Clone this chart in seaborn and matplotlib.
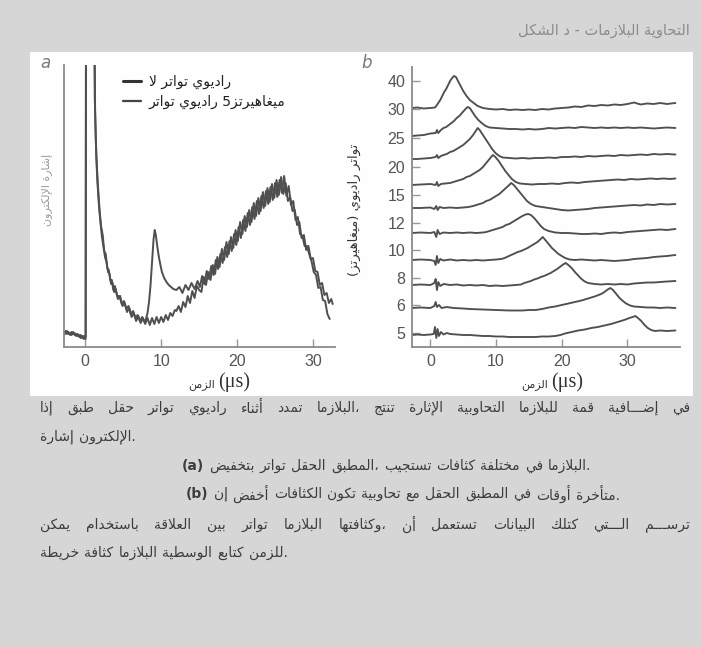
import re
import numpy as np
import pandas as pd
import matplotlib
matplotlib.use("Agg")
import matplotlib.pyplot as plt
import seaborn as sns
from matplotlib.lines import Line2D
from matplotlib.patches import Rectangle

# ------------------------------------------------------------------ data
time_ticks = [0, 10, 20, 30]

# panel a : electron signal (arbitrary units), (time us, signal)
a_no_rf = [(-2.8, 14), (-2.6, 16), (-2.4, 13), (-2.2, 15), (-2.0, 12), (-1.8, 15), (-1.6, 13),
           (-1.4, 14), (-1.2, 11), (-1.0, 13), (-0.8, 10), (-0.6, 12), (-0.4, 9), (-0.2, 11),
           (0.05, 8), (0.1, 400), (1.15, 400), (1.3, 235), (1.45, 190), (1.6, 165), (1.8, 142),
           (2.0, 125), (2.2, 110), (2.4, 100), (2.6, 90), (2.8, 85), (3.0, 75), (3.2, 73), (3.4, 63),
           (3.6, 64), (3.8, 55), (4.0, 58), (4.3, 48), (4.6, 51), (4.9, 41), (5.2, 44), (5.5, 35),
           (5.8, 39), (6.1, 30), (6.4, 34), (6.7, 26), (7.0, 31), (7.3, 24), (7.6, 29), (7.9, 23),
           (8.2, 29), (8.5, 22), (8.8, 29), (9.1, 23), (9.4, 30), (9.7, 24), (10.0, 30), (10.3, 25),
           (10.6, 32), (10.9, 27), (11.2, 34), (11.5, 31), (11.8, 37), (12.0, 36), (12.3, 41),
           (12.6, 35), (12.9, 45), (13.2, 40), (13.5, 51), (13.8, 44), (14.1, 56), (14.4, 49),
           (14.7, 61), (15.0, 57), (15.3, 55), (15.6, 70), (15.9, 62), (16.2, 75), (16.5, 67),
           (16.8, 82), (17.1, 73), (17.4, 90), (17.7, 80), (18.0, 98), (18.3, 87), (18.6, 105),
           (18.9, 93), (19.2, 110), (19.5, 99), (19.8, 117), (20.1, 106), (20.4, 125), (20.7, 113),
           (21.0, 131), (21.3, 120), (21.6, 137), (21.9, 125), (22.2, 144), (22.5, 131), (22.8, 149),
           (23.1, 136), (23.4, 155), (23.7, 141), (24.0, 159), (24.3, 145), (24.6, 163), (24.9, 149),
           (25.2, 167), (25.5, 152), (25.8, 170), (26.1, 153), (26.4, 164), (26.7, 146), (27.0, 150),
           (27.3, 136), (27.6, 137), (27.9, 122), (28.2, 125), (28.5, 109), (28.8, 112), (29.1, 97),
           (29.4, 101), (29.7, 88), (30.0, 89), (30.3, 76), (30.6, 75), (30.9, 62), (31.2, 64),
           (31.5, 52), (31.8, 54), (32.1, 44), (32.4, 48), (32.6, 43)]

a_rf5 = [(-2.8, 12), (-2.6, 14), (-2.4, 16), (-2.2, 13), (-2.0, 14), (-1.8, 12), (-1.6, 15),
         (-1.4, 12), (-1.2, 13), (-1.0, 11), (-0.8, 12), (-0.6, 9), (-0.4, 11), (-0.2, 8),
         (0.05, 10), (0.12, 400), (1.12, 400), (1.25, 250), (1.4, 205), (1.55, 178), (1.7, 158),
         (1.9, 135), (2.1, 120), (2.3, 112), (2.5, 96), (2.7, 93), (2.9, 79), (3.1, 77), (3.3, 67),
         (3.5, 67), (3.7, 57), (3.9, 61), (4.2, 51), (4.5, 51), (4.8, 43), (5.1, 46), (5.4, 38),
         (5.7, 41), (6.0, 33), (6.3, 36), (6.6, 29), (6.9, 32), (7.2, 26), (7.5, 30), (7.8, 25),
         (8.0, 28), (8.2, 34), (8.4, 45), (8.6, 62), (8.8, 85), (9.0, 108), (9.15, 117), (9.3, 112),
         (9.5, 100), (9.7, 90), (9.9, 82), (10.1, 75), (10.4, 69), (10.7, 65), (11.0, 62),
         (11.3, 60), (11.6, 58), (12.0, 57), (12.4, 60), (12.8, 54), (13.2, 62), (13.6, 57),
         (14.0, 64), (14.4, 58), (14.8, 66), (15.1, 60), (15.4, 71), (15.7, 63), (16.0, 76),
         (16.3, 68), (16.6, 81), (16.9, 72), (17.2, 87), (17.5, 78), (17.8, 93), (18.1, 84),
         (18.4, 100), (18.7, 90), (19.0, 106), (19.3, 96), (19.6, 113), (19.9, 102), (20.2, 120),
         (20.5, 109), (20.8, 127), (21.1, 116), (21.4, 134), (21.7, 122), (22.0, 140), (22.3, 128),
         (22.6, 146), (22.9, 133), (23.2, 151), (23.5, 139), (23.8, 156), (24.1, 143), (24.4, 160),
         (24.7, 147), (25.0, 164), (25.3, 150), (25.6, 167), (25.9, 154), (26.2, 171), (26.5, 151),
         (26.8, 161), (27.1, 142), (27.4, 146), (27.7, 127), (28.0, 130), (28.3, 113), (28.6, 111),
         (28.9, 101), (29.2, 101), (29.5, 93), (29.8, 86), (30.1, 75), (30.4, 72), (30.7, 59),
         (31.0, 60), (31.3, 47), (31.6, 46), (31.9, 33), (32.2, 28)]

legend_labels = ["لا تواتر راديوي", "تواتر راديوي 5ميغاهيرتز"]

# panel b : RF frequency (MHz) traces, (time us, amplitude above own baseline)
b_tick_labels = ["40", "30", "25", "20", "15", "12", "10", "8", "6", "5"]
b_tick_pos = [266, 238, 209, 180, 152, 124, 97, 69, 42, 14]
b_offsets = [239, 211, 188, 162, 139, 114, 87, 62, 39, 12]

b_trace1 = [(-2.8, 0), (-2, 0.5), (-1, -0.5), (0, 0), (0.7, 0.5), (1.0, 3), (1.2, 5), (1.5, 8), (1.8, 12),
            (2.1, 16), (2.4, 19), (2.7, 23), (3.0, 27), (3.3, 30), (3.6, 32), (3.9, 31), (4.2, 27),
            (4.6, 22), (5.0, 17), (5.5, 12), (6.0, 8), (6.6, 5), (7.2, 2), (8.0, 0), (9, -1), (10, -1.5),
            (11, -1), (12, -2), (13, -1.5), (14, -2), (15, -1.5), (16, -2), (17, -1), (18, -1.5),
            (19, -0.5), (20, 0), (21, 0.5), (22, 1.5), (23, 1), (24, 2.5), (25, 2), (26, 3), (27, 2.5),
            (28, 3.5), (29, 3), (30, 4), (31, 5.5), (32, 3.5), (33, 4.5), (34, 4), (35, 5), (36, 4),
            (37.3, 5)]
b_trace2 = [(-2.8, 0), (-2, 0.5), (-1, 1), (0, 2.5), (0.8, 3), (1.0, 6), (1.2, 3), (1.6, 6), (2.0, 8),
            (2.4, 9), (2.8, 11), (3.2, 13), (3.6, 15), (4.0, 18), (4.4, 20), (4.8, 23), (5.2, 26),
            (5.5, 28), (5.7, 29), (6.0, 28), (6.4, 24), (6.8, 20), (7.3, 16), (7.8, 13), (8.4, 10),
            (9, 8.5), (10, 8), (11, 7.5), (12, 7), (13, 7), (14, 6.5), (15, 7), (16, 6.5), (17, 7),
            (18, 8), (19, 7.5), (20, 8), (21, 8.5), (22, 8), (23, 9), (24, 8.5), (25, 8), (26, 8.5),
            (27, 8), (28, 8.5), (29, 8), (30, 8.5), (31, 8), (32, 8.5), (33, 8), (34, 7.5), (35, 8),
            (36, 8.5), (37.3, 8)]
b_trace3 = [(-2.8, 0), (-2, 0), (-1, 0.5), (0, 1), (0.8, 2), (1.0, 4), (1.2, 1), (1.6, 3), (2.0, 4),
            (2.5, 5), (3.0, 7), (3.5, 8), (4.0, 10), (4.5, 12), (5.0, 14), (5.5, 17), (6.0, 20),
            (6.5, 24), (6.9, 28), (7.2, 31), (7.5, 29), (7.9, 25), (8.4, 20), (8.9, 15), (9.4, 10),
            (9.9, 6), (10.5, 3), (11, 1.5), (12, 1), (13, 0.5), (14, 1), (15, 0.5), (16, 1), (17, 1),
            (18, 1.5), (19, 1), (20, 2), (21, 2), (22, 2.5), (23, 2), (24, 3), (25, 2.5), (26, 3),
            (27, 3.5), (28, 3), (29, 4), (30, 3.5), (31, 4), (32, 4.5), (33, 4), (34, 5), (35, 4.5),
            (36, 5), (37.3, 4.5)]
b_trace4 = [(-2.8, 0), (-1.5, 0.5), (0, 1), (0.8, 0), (1.0, 3), (1.2, -1), (1.6, 1), (2.2, 1.5), (3.0, 2),
            (3.5, 3), (4.0, 4), (4.5, 5), (5.0, 6), (5.5, 8), (6.0, 9), (6.5, 11), (7.0, 13), (7.5, 15),
            (8.0, 18), (8.5, 22), (9.0, 26), (9.5, 30), (9.9, 28), (10.4, 24), (10.9, 19), (11.4, 14),
            (11.9, 10), (12.4, 6), (13, 3), (13.6, 1.5), (14.5, 1), (15.5, 0.5), (16.5, 1), (17.5, 1),
            (18.5, 1.5), (19.5, 1), (20.5, 2), (21.5, 2.5), (22.5, 2), (23.5, 3), (24.5, 3.5),
            (25.5, 4), (26.5, 4.5), (27.5, 5), (28.5, 5.5), (29.5, 5), (30.5, 6), (31.5, 5.5),
            (32.5, 6), (33.5, 6.5), (34.5, 6), (35.5, 6.5), (36.5, 6), (37.3, 6.5)]
b_trace5 = [(-2.8, 0), (-1.5, 0), (0, 0.5), (0.6, -1), (0.9, 2), (1.1, -2), (1.4, 1), (2.0, 0), (3, 0.5),
            (4, 0), (5, 0.5), (5.8, 1), (6.5, 2), (7, 3), (7.5, 4), (8, 5), (8.5, 7), (9, 8), (9.5, 10),
            (10, 12), (10.5, 14), (11, 17), (11.5, 20), (12, 23), (12.3, 25), (12.7, 23), (13.2, 19),
            (13.7, 15), (14.2, 11), (14.7, 7), (15.3, 4), (16, 2), (17, 1), (18, 0), (19, -1), (20, -2),
            (21, -2.5), (22, -2), (23, -1.5), (24, -1), (25, 0), (26, 0.5), (27, 1), (28, 1.5), (29, 2),
            (30, 2.5), (31, 3), (32, 2.5), (33, 3.5), (34, 3), (35, 4), (36, 3.5), (37.3, 4)]
b_trace6 = [(-2.8, 0), (-1.5, 0.5), (0, 0), (0.6, 1), (0.9, -4), (1.1, 3), (1.4, -1), (2, 0.5), (3, 0),
            (4, 0.5), (5, 0), (6, 0.5), (7, 0), (8, 0.5), (8.5, 1), (9, 2), (9.5, 3), (10, 4), (10.5, 5),
            (11, 6), (11.5, 8), (12, 9), (12.5, 11), (13, 13), (13.5, 15), (14, 17), (14.5, 18.5),
            (14.9, 19), (15.3, 18), (15.8, 15), (16.3, 11), (16.8, 7), (17.3, 4), (18, 2), (19, 0.5),
            (20, 0), (21, 0), (22, -0.5), (23, -1), (24, -1), (25, -0.5), (26, -1), (27, 0), (28, 0.5),
            (29, 0), (30, 1), (31, 1.5), (32, 2), (33, 2.5), (34, 3), (35, 3.5), (36, 3), (37.3, 4)]
b_trace7 = [(-2.8, 0), (-1.5, 0.5), (0, 0), (0.6, -1), (0.8, -5), (1.0, 4), (1.2, -3), (1.5, 1), (2, -0.5),
            (3, 0.5), (4, -0.5), (5, 0), (6, -0.5), (7, 0), (8, -0.5), (9, 0), (10, 0.5), (10.8, 1),
            (11.3, 2), (11.8, 3.5), (12.3, 5), (12.8, 6.5), (13.3, 8), (13.8, 9), (14.3, 10.5),
            (14.8, 12), (15.3, 14), (15.8, 16), (16.3, 18), (16.8, 21), (17.1, 23), (17.5, 20),
            (18, 16), (18.5, 12), (19, 9), (19.5, 6), (20, 4), (20.5, 2), (21.2, 0.5), (22, 0),
            (23, 0.5), (24, 0), (25, -0.5), (26, 0), (27, -0.5), (28, -1), (29, -0.5), (30, 0), (31, 1),
            (32, 1.5), (33, 2), (34, 3), (35, 3.5), (36, 4), (37.3, 5)]
b_trace8 = [(-2.8, 0), (-1.5, 0.5), (0, 0), (0.6, 2), (0.8, 6), (1.0, -5), (1.2, 3), (1.5, -1), (2, 1),
            (3, 0), (4, 0.5), (5, -0.5), (6, 0), (7, -0.5), (8, 0), (9, -1), (10, -0.5), (11, -1),
            (12, -0.5), (13, 0), (13.8, 0.5), (14.3, 2), (14.8, 3), (15.3, 4), (15.8, 5.5), (16.3, 6.5),
            (16.8, 8), (17.3, 9), (17.8, 10.5), (18.3, 12), (18.8, 14), (19.3, 16), (19.8, 18.5),
            (20.2, 20.5), (20.6, 22), (21, 20), (21.5, 17), (22, 13), (22.5, 9.5), (23, 6), (23.5, 3.5),
            (24, 2), (25, 1), (26, 0.5), (27, 1), (28, 0.5), (29, 1), (30, 0.5), (31, 1.5), (32, 2),
            (33, 2.5), (34, 2.5), (35, 3), (36, 3.5), (37.3, 4)]
b_trace9 = [(-2.8, 0), (-1.5, 0.5), (0, 0), (0.6, 2), (0.8, 6), (1.0, 1), (1.3, 3), (1.7, 0), (2.5, 1),
            (3.5, 0), (5, -0.5), (6, -1), (8, -1.5), (10, -2), (12, -2.5), (14, -2.5), (15, -2),
            (16, -2), (17, -1), (18, 0.5), (19, 1.5), (20, 3), (21, 4.5), (22, 6), (23, 7.5), (24, 9.5),
            (25, 11.5), (26, 14), (26.5, 16), (27, 18.5), (27.4, 20), (27.8, 18), (28.3, 14), (28.8, 10),
            (29.3, 7), (29.8, 4.5), (30.4, 2.5), (31, 1.5), (32, 1), (33, 0.5), (34, 0.5), (35, 0),
            (36, 0.5), (37.3, 0)]
b_trace10 = [(-2.8, 0), (-2, 0.5), (-1, 0), (0, 0.5), (0.5, 1), (0.7, 8), (0.9, -3), (1.1, 6), (1.3, -1),
             (1.6, 3), (2, 0.5), (2.5, 2), (3, 1), (4, 0.5), (5, 0), (6, 0), (7, -0.5), (8, -1), (9, -1),
             (10, -1.5), (11, -1.5), (12, -2), (13, -2), (14, -2), (15, -2), (16, -2), (17, -1.5),
             (18, -1.5), (19, -1), (19.8, 0), (20.5, 1.5), (21.5, 3), (22.5, 4.5), (23.5, 5.5),
             (24.5, 7), (25.5, 8), (26.5, 9.5), (27.5, 11), (28.5, 13), (29.5, 15), (30.3, 17),
             (30.8, 18), (31.2, 19), (31.6, 17), (32.1, 14), (32.6, 10), (33.1, 7), (33.6, 5),
             (34.2, 4), (35, 4.5), (36, 4), (37.3, 4.5)]
b_traces = [b_trace1, b_trace2, b_trace3, b_trace4, b_trace5,
            b_trace6, b_trace7, b_trace8, b_trace9, b_trace10]

title_text = "الشكل د - البلازمات التحاوية"
a_ylabel = "إشارة الإلكترون"
b_ylabel = "تواتر راديوي (ميغاهيرتز)"
x_word = "الزمن"
x_unit = "(μs)"
paragraph = [
    "إذا طبّق حقل تواتر راديوي أثناء تمدّد البلازما، تُنتج الإثارة التحاوبية للبلازما قمّة إضـــافية في",
    "إشارة الإلكترون.",
    "(a) بتخفيض تواتر الحقل المطبّق، تستجيب كثافات مختلفة في البلازما.",
    "(b) إن أخفض الكثافات تكون تحاوبية مع الحقل المطبّق في أوقات متأخرة.",
    "يمكن باستخدام العلاقة بين تواتر البلازما وكثافتها، أن تستعمل البيانات كتلك الـــتي ترســـم",
    "خريطة كثافة البلازما الوسطية كتابع للزمن.",
]

# ------------------------------------------------------------------ arabic shaping
_spec = [('ء', 0xFE80, 1), ('آ', 0xFE81, 2), ('أ', 0xFE83, 2), ('ؤ', 0xFE85, 2), ('إ', 0xFE87, 2),
         ('ئ', 0xFE89, 4), ('ا', 0xFE8D, 2), ('ب', 0xFE8F, 4), ('ة', 0xFE93, 2), ('ت', 0xFE95, 4),
         ('ث', 0xFE99, 4), ('ج', 0xFE9D, 4), ('ح', 0xFEA1, 4), ('خ', 0xFEA5, 4), ('د', 0xFEA9, 2),
         ('ذ', 0xFEAB, 2), ('ر', 0xFEAD, 2), ('ز', 0xFEAF, 2), ('س', 0xFEB1, 4), ('ش', 0xFEB5, 4),
         ('ص', 0xFEB9, 4), ('ض', 0xFEBD, 4), ('ط', 0xFEC1, 4), ('ظ', 0xFEC5, 4), ('ع', 0xFEC9, 4),
         ('غ', 0xFECD, 4), ('ف', 0xFED1, 4), ('ق', 0xFED5, 4), ('ك', 0xFED9, 4), ('ل', 0xFEDD, 4),
         ('م', 0xFEE1, 4), ('ن', 0xFEE5, 4), ('ه', 0xFEE9, 4), ('و', 0xFEED, 2), ('ى', 0xFEEF, 2),
         ('ي', 0xFEF1, 4)]
FORMS = {c: [chr(s + k) for k in range(n)] for c, s, n in _spec}
DUAL = {c for c, s, n in _spec if n == 4} | {'ـ'}
RJOIN = {c for c, s, n in _spec if n >= 2} | {'ـ'}
LAMALEF = {'آ': ('\uFEF5', '\uFEF6'), 'أ': ('\uFEF7', '\uFEF8'),
           'إ': ('\uFEF9', '\uFEFA'), 'ا': ('\uFEFB', '\uFEFC')}


def shape(s):
    ch = [c for c in s if not ('\u064B' <= c <= '\u0652' or c == '\u0670')]
    out, i, n = [], 0, len(ch)
    while i < n:
        c = ch[i]
        if c not in FORMS and c != 'ـ':
            out.append(c); i += 1; continue
        p = i > 0 and ch[i - 1] in DUAL
        if c == 'ل' and i + 1 < n and ch[i + 1] in LAMALEF:
            iso, fin = LAMALEF[ch[i + 1]]
            out.append(fin if p else iso); i += 2; continue
        if c == 'ـ':
            out.append(c); i += 1; continue
        nx = c in DUAL and i + 1 < n and ch[i + 1] in RJOIN
        f = FORMS[c]
        if len(f) == 1:
            g = f[0]
        elif len(f) == 2:
            g = f[1] if p else f[0]
        else:
            g = f[3] if (p and nx) else f[1] if p else f[2] if nx else f[0]
        out.append(g); i += 1
    return ''.join(out)


_AR = r'[\u0621-\u064A\u0640\u064B-\u0652\u0670]+'


def vis_word(tok):
    """one word: Arabic letters right-to-left, punctuation/digits kept in place"""
    parts = re.findall(_AR + r'|[^\u0621-\u064A\u0640\u064B-\u0652\u0670]+', tok)
    return ''.join(shape(p)[::-1] if re.fullmatch(_AR, p) else p for p in parts)


def vis_ltr(s):
    """words kept in left-to-right order, as printed in the scanned page"""
    return ' '.join(vis_word(t) for t in s.split(' '))


def vis_rtl(s):
    r = shape(s)[::-1]
    return r.translate(str.maketrans('()', ')('))


# ------------------------------------------------------------------ figure
sns.set_style("ticks")
plt.rcParams['font.family'] = ['DejaVu Sans']

W, H = 702, 647
fig = plt.figure(figsize=(W / 100, H / 100), dpi=100)
fig.patch.set_facecolor('#d6d6d6')


def fx(px):
    return px / W


def fy(py):
    return 1 - py / H


fig.add_artist(Rectangle((fx(30), fy(396)), fx(693) - fx(30), fy(52) - fy(396),
                         transform=fig.transFigure, facecolor='#fefefe', edgecolor='none', zorder=0))

line_col = '#4f4f4f'
spine_col = '#8a8a8a'
num_font = ['Liberation Sans', 'DejaVu Sans']

# ---------------- panel a
axa = fig.add_axes([fx(64), fy(347), fx(335) - fx(64), fy(65) - fy(347)])
axa.set_facecolor('none')
rows = []
for name, pts in (("no_rf", a_no_rf), ("rf5", a_rf5)):
    for t, v in pts:
        rows.append((name, t, v))
dfa = pd.DataFrame(rows, columns=["series", "t", "signal"])
sns.lineplot(data=dfa, x="t", y="signal", hue="series", estimator=None, sort=False,
             palette={"no_rf": line_col, "rf5": line_col}, lw=1.4, legend=False, ax=axa)
axa.set_xlim(-2.8, 32.9)
axa.set_ylim(0, 282)
axa.set_xticks(time_ticks)
axa.set_yticks([])
axa.set_xlabel("")
axa.set_ylabel("")
handles = [Line2D([], [], color='#333333', lw=2.2), Line2D([], [], color='#444444', lw=1.6)]
leg = axa.legend(handles, [vis_ltr(l) for l in legend_labels], loc='upper left',
                 bbox_to_anchor=(0.17, 1.01), frameon=False, handlelength=1.3,
                 handletextpad=0.6, labelspacing=0.45, fontsize=10)
for t in leg.get_texts():
    t.set_color('#222222')

# ---------------- panel b
axb = fig.add_axes([fx(412), fy(347), fx(680) - fx(412), fy(67) - fy(347)])
axb.set_facecolor('none')
rows = []
for k, (pts, off) in enumerate(zip(b_traces, b_offsets)):
    for t, v in pts:
        rows.append((k, t, v + off))
dfb = pd.DataFrame(rows, columns=["trace", "t", "y"])
sns.lineplot(data=dfb, x="t", y="y", units="trace", estimator=None, sort=False,
             color=line_col, lw=1.35, ax=axb)
axb.set_xlim(-2.8, 38.0)
axb.set_ylim(0, 280)
axb.set_xticks(time_ticks)
axb.set_yticks(b_tick_pos)
axb.set_yticklabels(b_tick_labels)
axb.set_xlabel("")
axb.set_ylabel("")

for ax in (axa, axb):
    sns.despine(ax=ax)
    for sp in ('left', 'bottom'):
        ax.spines[sp].set_color(spine_col)
        ax.spines[sp].set_linewidth(1.3)
    ax.tick_params(axis='both', direction='in', length=6, width=1.0, color='#999999',
                   labelcolor='#555555', labelsize=11.5, pad=5)
    for lab in ax.get_xticklabels() + ax.get_yticklabels():
        lab.set_family(num_font)

# ---------------- texts
txt_col = '#3c3c3c'
fig.text(fx(45), fy(63), 'a', fontsize=12, style='italic', color='#7a7a7a', ha='center', va='center')
fig.text(fx(367), fy(63), 'b', fontsize=12, style='italic', color='#7a7a7a', ha='center', va='center')
fig.text(fx(690), fy(30), vis_ltr(title_text), fontsize=10.5, color='#8c8c8c', ha='right', va='center')
fig.text(fx(47), fy(190), vis_rtl(a_ylabel), fontsize=8, color='#9a9a9a', rotation=90,
         ha='center', va='center')
fig.text(fx(354), fy(210), vis_rtl(b_ylabel), fontsize=9.5, color='#333333', rotation=90,
         ha='center', va='center')
for xw, xu in ((215, 218), (548, 551)):
    fig.text(fx(xw), fy(385), vis_ltr(x_word), fontsize=8, color='#333333', ha='right', va='center')
    fig.text(fx(xu), fy(382), x_unit, fontsize=14.5, color='#333333', ha='left', va='center',
             family=['Liberation Serif', 'DejaVu Serif'])

# ---------------- paragraph (word order left-to-right as in the scanned page)
renderer = fig.canvas.get_renderer()


def place_line(s, x0, y, x1=None, size=10):
    arts = []
    for tok in s.split(' '):
        bold = tok in ('(a)', '(b)')
        t = fig.text(0, 0, vis_word(tok), fontsize=size, color=txt_col, ha='left', va='center',
                     fontweight='bold' if bold else 'normal')
        arts.append(t)
    widths = [a.get_window_extent(renderer).width for a in arts]
    gap = 5.0
    if x1 is not None and len(arts) > 1:
        gap = (x1 - x0 - sum(widths)) / (len(arts) - 1)
    x = x0
    for a, w in zip(arts, widths):
        a.set_position((fx(x), fy(y)))
        x += w + gap


line_pos = [(40, 408, 690), (40, 437, None), (182, 466, None), (186, 494, None),
            (40, 525, 690), (40, 553, None)]
for s, (x0, y, x1) in zip(paragraph, line_pos):
    place_line(s, x0, y, x1)

fig.savefig("out.png", dpi=100, facecolor=fig.get_facecolor())
